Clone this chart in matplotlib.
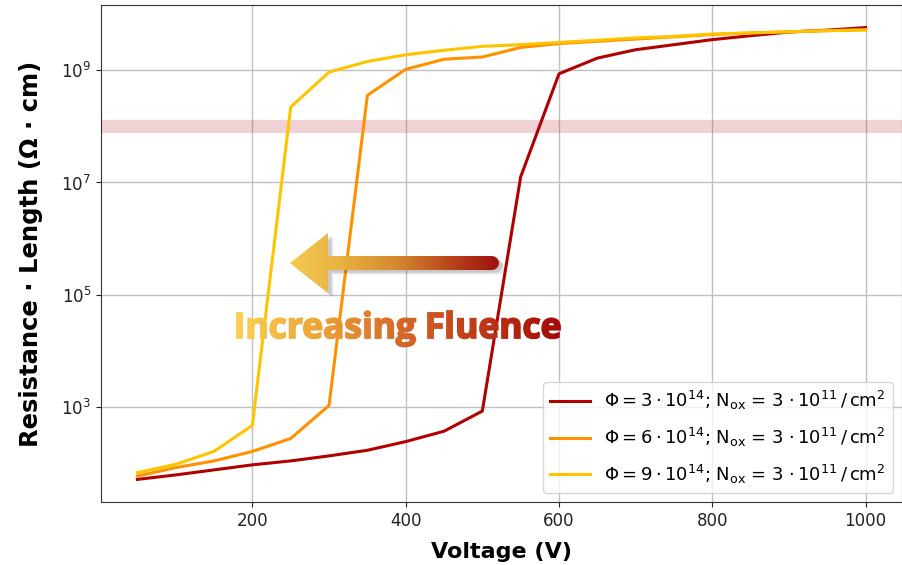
import numpy as np
import matplotlib
matplotlib.use("Agg")
import matplotlib.pyplot as plt
from matplotlib.ticker import FixedLocator, LogFormatterSciNotation, NullLocator
from matplotlib.textpath import TextPath
from matplotlib.font_manager import FontProperties
from matplotlib.patches import PathPatch, Polygon
from matplotlib.colors import LinearSegmentedColormap
import matplotlib.transforms as mtransforms

# ---- data (log10 of resistance*length) ----
voltage = [50, 100, 150, 200, 250, 300, 350, 400, 450, 500,
           550, 600, 650, 700, 750, 800, 850, 900, 950, 1000]

log_r_phi3 = [1.70, 1.78, 1.87, 1.96, 2.03, 2.12, 2.22, 2.375, 2.56, 2.92,
              7.10, 8.94, 9.22, 9.37, 9.46, 9.55, 9.62, 9.685, 9.72, 9.765]
log_r_phi6 = [1.76, 1.91, 2.03, 2.20, 2.43, 3.02, 8.555, 9.02, 9.20, 9.24,
              9.41, 9.48, 9.52, 9.56, 9.60, 9.64, 9.67, 9.69, 9.71, 9.73]
log_r_phi9 = [1.82, 1.97, 2.20, 2.665, 8.347, 8.97, 9.16, 9.28, 9.36, 9.43,
              9.46, 9.50, 9.54, 9.58, 9.61, 9.65, 9.67, 9.69, 9.71, 9.72]

labels = [
    r"$\Phi = 3 \cdot 10^{14}$; N$_{\rm ox}$ = 3 $\cdot\,10^{11}\,/\,\rm cm^2$",
    r"$\Phi = 6 \cdot 10^{14}$; N$_{\rm ox}$ = 3 $\cdot\,10^{11}\,/\,\rm cm^2$",
    r"$\Phi = 9 \cdot 10^{14}$; N$_{\rm ox}$ = 3 $\cdot\,10^{11}\,/\,\rm cm^2$",
]
colors = ["#B00000", "#FF9100", "#FFC400"]
threshold = 1e8
y_ticks = [1e1, 1e3, 1e5, 1e7, 1e9]

W, H = 903, 565
fig = plt.figure(figsize=(W / 100, H / 100), dpi=100)
ax = fig.add_axes([101 / W, 1 - 502 / H, (902 - 101) / W, (502 - 5) / H])

for logs, c, lab in zip([log_r_phi3, log_r_phi6, log_r_phi9], colors, labels):
    ax.plot(voltage, np.power(10.0, logs), color=c, lw=2.2, label=lab)

ax.axhline(threshold, color="#C0303A", alpha=0.22, lw=9.5, zorder=1)

ax.set_yscale("log")
ax.yaxis.set_major_locator(FixedLocator(y_ticks))
ax.yaxis.set_major_formatter(LogFormatterSciNotation())
ax.yaxis.set_minor_locator(NullLocator())
ax.set_xticks([200, 400, 600, 800, 1000])
ax.tick_params(labelsize=12, colors="#222222")
ax.grid(True, color="#c0c0c0", lw=1)
ax.set_axisbelow(True)
for s in ax.spines.values():
    s.set_color("#333333")

ax.set_xlabel("Voltage (V)", fontsize=16, fontweight="bold", labelpad=9)
ax.set_ylabel("Resistance \u00b7 Length (\u03a9 \u00b7 cm)", fontsize=17.5,
              fontweight="bold")
ax.yaxis.set_label_coords(-0.073, 0.5)

leg = ax.legend(loc="lower right", fontsize=13, handlelength=2.2,
                labelspacing=0.75, framealpha=0.8)

# ---- overlay for annotation (pixel coordinates) ----
ov = fig.add_axes([0, 0, 1, 1])
ov.axis("off")

# arrow with gradient
sh_y = 263
pts = [(290, sh_y), (328, sh_y - 30), (328, sh_y - 7), (492, sh_y - 7)]
for a in np.linspace(90, -90, 9)[1:-1]:
    r = np.deg2rad(a)
    pts.append((492 + 7 * np.cos(r), sh_y - 7 * np.sin(r)))
pts += [(492, sh_y + 7), (328, sh_y + 7), (328, sh_y + 30)]
pts = np.array(pts)
for k, al in [(6, 0.06), (5, 0.08), (4, 0.1), (3, 0.12)]:
    ov.add_patch(Polygon(pts + np.array([k, k * 0.8]), closed=True,
                         fc="#555555", ec="none", alpha=al, zorder=1))
arrow = Polygon(pts, closed=True, fc="none", ec="none", zorder=1)
ov.add_patch(arrow)
cmap_arrow = LinearSegmentedColormap.from_list(
    "ar", ["#F4CB50", "#E8B040", "#D48A2E", "#B94A1C", "#A00E0E"])
grad = np.linspace(0, 1, 256).reshape(1, -1)
im = ov.imshow(grad, cmap=cmap_arrow, extent=[290, 500, sh_y + 31, sh_y - 31],
               aspect="auto", interpolation="bilinear", zorder=3)
im.set_clip_path(arrow)

# gradient text
tx0, tx1, base = 237, 560, 338
fp = FontProperties(family="Open Sans", weight="bold")
tp = TextPath((0, 0), "Increasing Fluence", size=40, prop=fp)
bb = tp.get_extents()
s = (tx1 - tx0) / bb.width
tr = mtransforms.Affine2D().translate(-bb.x0, 0).scale(s, -s).translate(tx0, base)
cmap_text = LinearSegmentedColormap.from_list(
    "tx", ["#FAD050", "#ECA53A", "#D66A28", "#BF3A17", "#A50808"])
# stroke each contour (thickens glyphs) in its local gradient colour
for poly in tr.transform_path(tp).to_polygons(closed_only=True):
    xc = 0.5 * (poly[:, 0].min() + poly[:, 0].max())
    col = cmap_text(np.clip((xc - tx0) / (tx1 - tx0), 0, 1))
    ov.add_patch(Polygon(poly, closed=True, fc="none", ec=col, lw=1.3,
                         zorder=2))
tpatch = PathPatch(tp, transform=tr + ov.transData, fc="none", ec="none")
ov.add_patch(tpatch)
im2 = ov.imshow(grad, cmap=cmap_text, extent=[tx0, tx1, 350, 300],
                aspect="auto", interpolation="bilinear", zorder=3)
im2.set_clip_path(tpatch)

ov.set_xlim(0, W)
ov.set_ylim(H, 0)

fig.savefig("out.png", dpi=100)
